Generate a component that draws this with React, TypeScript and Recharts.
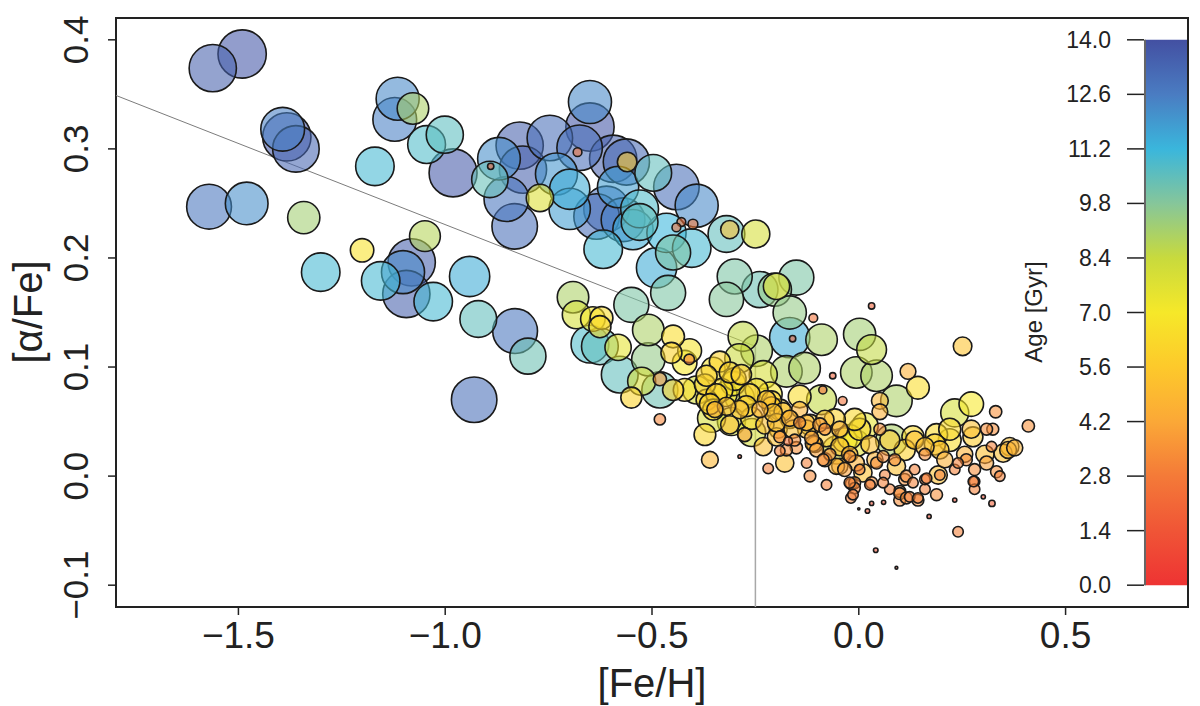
import React from 'react';
import { ScatterChart, Scatter, XAxis, YAxis, ReferenceArea, ReferenceLine } from 'recharts';

// [Fe/H] of each star
const fehValues: number[] = [
  -1.562, -1.491, -1.393, -1.383, -1.361, -1.571, -1.480, -1.342, -1.201, -1.301,
  -1.170, -1.115, -1.122, -1.078, -1.001, -1.045, -0.981, -0.892, -0.870, -0.890,
  -0.820, -0.812, -0.747, -0.852, -0.832, -0.771, -0.731, -0.699, -0.699, -0.650,
  -0.650, -0.675, -0.680, -0.594, -0.562, -0.560, -0.582, -0.610, -0.634, -0.570,
  -0.530, -0.530, -0.546, -0.497, -0.441, -0.392, -0.618, -0.465, -0.429, -0.441,
  -0.401, -0.404, -0.449, -0.489, -0.461, -0.320, -0.312, -0.249, -0.300, -0.320,
  -0.239, -0.203, -0.280, -0.691, -0.683, -0.550, -0.622, -0.626, -0.509, -0.449,
  -1.049, -1.081, -1.102, -1.094, -1.156, -1.029, -0.941, -0.920, -0.831, -0.800,
  -0.930, -0.650, -0.626, -0.643, -0.582, -0.578, -0.509, -0.525, -0.481, -0.481,
  -0.550, -0.481, -0.409, -0.410, -0.421, -0.392, -0.352, -0.368, -0.289, -0.284,
  -0.288, -0.308, -0.372, -0.360, -0.231, -0.211, -0.259, -0.231, -0.247, -0.288,
  -0.175, -0.131, -0.143, -0.195, -0.179, -0.219, -0.118, -0.078, -0.167, -0.160,
  -0.167, -0.110, -0.151, -0.090, -0.063, -0.087, 0.002, 0.031, -0.006, 0.043,
  -0.090, -0.039, 0.119, 0.143, 0.091, 0.051, 0.051, 0.251, 0.232, 0.272,
  0.331, 0.410, 0.220, 0.276, 0.305, 0.324, 0.361, 0.377, 0.341, 0.280,
  0.301, 0.322, 0.280, 0.240, 0.232, 0.170, 0.041, 0.091, 0.021, 0.031,
  0.060, 0.000, -0.019, -0.010, -0.022, -0.151, -0.191, -0.171, 0.099, 0.123,
  0.143, 0.188, 0.099, 0.160, 0.079,
  -0.336, -0.300, -0.372, -0.324, -0.348, -0.288, -0.264, -0.239, -0.312, -0.276,
  -0.227, -0.191, -0.215, -0.167, -0.143, -0.118, -0.155, -0.106, -0.082, -0.058,
  -0.034, -0.070, -0.022, 0.002, 0.027, 0.051, 0.075, 0.039, 0.087, 0.111,
  0.135, 0.160, 0.184, 0.208, 0.135, 0.256, 0.232, 0.063, 0.111, 0.196,
  0.002, -0.034, 0.027, 0.075, 0.160, -0.054, -0.006, 0.015, -0.010, -0.082,
  -0.094, -0.046, -0.114, -0.199, -0.259, -0.211, -0.183, -0.126, -0.082, -0.046,
  -0.006, 0.010, 0.043, 0.059, 0.091, 0.115, 0.131, 0.164, 0.192, 0.196,
  0.160, 0.131, 0.188, 0.220, 0.240, 0.260, 0.272, 0.309, 0.321, 0.280,
  0.309, 0.333, 0.365, 0.349, 0.277, -0.018, 0.031, 0.059, 0.099, 0.115,
  0.143, -0.199, -0.159, -0.126, -0.110, -0.078, -0.046, -0.022, -0.054, -0.022,
  -0.086, -0.102, -0.126, -0.175, -0.010, -0.014, -0.312, -0.223, -0.344, -0.352,
  -0.320, -0.207, -0.167, -0.143, -0.191, -0.453, -0.449, -0.421, -0.368, -0.332,
  -0.304, -0.360, -0.272, -0.247, -0.356, 0.031, -0.199,
];

// [alpha/Fe] of each star
const alphaValues: number[] = [
  0.374, 0.387, 0.318, 0.311, 0.300, 0.247, 0.250, 0.237, 0.207, 0.187,
  0.284, 0.346, 0.327, 0.337, 0.313, 0.304, 0.278, 0.272, 0.291, 0.284,
  0.303, 0.281, 0.310, 0.254, 0.229, 0.255, 0.277, 0.263, 0.245, 0.343,
  0.320, 0.301, 0.297, 0.291, 0.288, 0.288, 0.265, 0.245, 0.238, 0.235,
  0.245, 0.233, 0.226, 0.278, 0.265, 0.248, 0.208, 0.223, 0.233, 0.228,
  0.231, 0.209, 0.205, 0.191, 0.168, 0.222, 0.226, 0.222, 0.183, 0.162,
  0.171, 0.171, 0.128, 0.164, 0.148, 0.157, 0.145, 0.137, 0.134, 0.128,
  0.220, 0.196, 0.187, 0.167, 0.179, 0.160, 0.183, 0.144, 0.133, 0.110,
  0.070, 0.121, 0.119, 0.144, 0.118, 0.093, 0.107, 0.087, 0.089, 0.079,
  0.072, 0.052, 0.115, 0.107, 0.104, 0.079, 0.098, 0.070, 0.108, 0.093,
  0.072, 0.050, 0.038, 0.015, 0.093, 0.064, 0.040, 0.027, 0.115, 0.018,
  0.096, 0.099, 0.073, 0.043, 0.012, 0.007, 0.000, -0.008, 0.127, 0.126,
  0.150, 0.145, 0.182, 0.125, 0.092, 0.079, 0.130, 0.116, 0.095, 0.092,
  0.070, 0.069, 0.096, 0.081, 0.069, 0.069, 0.059, 0.119, 0.058, 0.066,
  0.059, 0.046, 0.033, 0.036, 0.020, 0.043, 0.024, 0.026, 0.000, -0.005,
  -0.019, -0.025, -0.012, -0.051, -0.022, -0.037, -0.068, -0.084, -0.032, -0.025,
  -0.024, -0.030, -0.020, -0.011, -0.006, 0.026, 0.023, 0.032, -0.022, -0.019,
  -0.020, -0.017, -0.014, -0.012, 0.033,
  0.105, 0.089, 0.084, 0.075, 0.061, 0.061, 0.075, 0.061, 0.047, 0.038,
  0.047, 0.061, 0.075, 0.052, 0.061, 0.047, 0.033, 0.029, 0.043, 0.052,
  0.033, 0.020, 0.020, 0.043, 0.029, 0.043, 0.033, 0.015, 0.015, 0.024,
  0.033, 0.020, 0.029, 0.015, 0.006, 0.020, 0.006, 0.001, -0.003, 0.001,
  0.006, 0.006, -0.008, -0.012, -0.003, 0.024, 0.030, 0.046, 0.052, 0.052,
  0.047, 0.043, 0.035, 0.036, 0.053, 0.069, 0.059, 0.043, 0.015, 0.009,
  0.012, 0.003, 0.012, 0.018, 0.009, 0.000, -0.006, -0.002, 0.001, 0.024,
  0.027, 0.036, 0.038, 0.043, 0.012, 0.015, 0.043, 0.043, 0.027, 0.006,
  0.012, 0.004, 0.027, 0.021, -0.005, -0.007, -0.006, -0.006, -0.016, -0.020,
  -0.022, 0.049, 0.043, 0.049, 0.030, 0.036, 0.027, 0.036, 0.009, 0.018,
  0.015, 0.024, 0.012, 0.024, -0.006, -0.017, 0.095, 0.070, 0.075, 0.061,
  0.064, 0.058, 0.053, 0.049, 0.036, 0.113, 0.079, 0.079, 0.092, 0.079,
  0.085, 0.066, 0.064, 0.079, 0.053, 0.156, 0.174,
];

// stellar age in Gyr of each star
const ageValues: number[] = [
  13.5, 13.8, 12.5, 13.8, 13.3, 12.8, 12.2, 9.2, 6.7, 11.0,
  11.0, 12.3, 12.5, 9.0, 10.6, 10.8, 13.7, 10.4, 12.2, 1.8,
  13.5, 13.5, 13.0, 12.8, 13.0, 7.8, 12.0, 11.5, 11.8, 12.3,
  13.8, 13.0, 2.5, 13.5, 13.2, 5.6, 11.8, 13.0, 13.0, 12.5,
  10.8, 10.5, 11.5, 10.5, 13.0, 12.3, 11.0, 11.2, 2.5, 2.5,
  2.8, 11.0, 10.0, 11.5, 10.0, 10.5, 5.2, 8.0, 10.0, 9.8,
  10.3, 9.5, 8.5, 9.0, 8.0, 10.0, 6.5, 6.3, 9.0, 6.5,
  8.8, 13.5, 12.3, 13.5, 11.0, 11.0, 11.5, 10.5, 12.8, 10.3,
  13.0, 10.8, 10.5, 7.0, 7.5, 10.5, 9.5, 8.0, 3.8, 10.3,
  6.0, 3.2, 6.8, 3.0, 7.0, 8.0, 6.8, 6.0, 8.3, 5.8,
  8.3, 8.0, 6.2, 4.8, 8.0, 5.5, 8.0, 5.2, 9.0, 1.0,
  9.0, 9.0, 6.5, 5.2, 5.2, 3.0, 3.3, 3.0, 11.5, 1.8,
  9.5, 2.5, 10.0, 9.0, 1.8, 2.3, 9.2, 8.5, 9.0, 9.0,
  8.5, 2.5, 4.5, 6.5, 9.0, 4.8, 4.5, 5.3, 8.0, 7.0,
  3.5, 3.5, 6.5, 5.7, 5.2, 3.4, 4.8, 4.6, 3.0, 3.0,
  1.2, 1.8, 3.0, 3.0, 1.2, 1.2, 1.3, 0.8, 1.3, 1.2,
  1.2, 0.6, 3.0, 3.2, 3.2, 3.5, 3.0, 2.5, 3.4, 3.0,
  3.0, 3.4, 3.4, 3.0, 9.0,
  6.0, 6.5, 6.0, 7.0, 4.6, 5.2, 6.0, 4.6, 5.2, 4.0,
  5.2, 6.0, 7.0, 5.2, 4.6, 6.0, 3.4, 4.6, 3.4, 6.0,
  7.0, 3.4, 4.6, 6.3, 5.2, 3.4, 5.7, 4.6, 3.4, 6.0,
  5.2, 3.4, 6.0, 4.6, 3.0, 4.6, 3.0, 3.0, 3.4, 3.0,
  3.0, 4.0, 3.0, 3.0, 3.0, 8.0, 7.5, 7.5, 6.3, 5.2,
  4.0, 4.6, 4.0, 5.2, 6.3, 5.7, 5.2, 5.2, 4.0, 4.6,
  4.6, 5.2, 3.4, 3.4, 5.2, 3.4, 3.0, 3.0, 5.2, 5.2,
  5.2, 6.3, 6.3, 6.3, 3.0, 3.4, 5.2, 3.4, 3.0, 3.4,
  4.0, 3.4, 5.2, 5.2, 3.0, 3.4, 3.4, 3.0, 3.4, 3.4,
  3.4, 5.2, 5.2, 4.6, 4.6, 5.7, 5.2, 7.0, 4.6, 3.4,
  3.4, 4.0, 3.0, 3.4, 3.4, 3.0, 6.0, 5.2, 6.0, 6.0,
  5.2, 5.2, 4.6, 3.4, 3.4, 6.0, 6.0, 6.5, 6.0, 6.5,
  7.0, 6.0, 6.0, 6.5, 8.0, 1.8, 7.5,
];

// axis ticks
const xTicks = [-1.5, -1.0, -0.5, 0.0, 0.5];
const yTicks = [-0.1, 0.0, 0.1, 0.2, 0.3, 0.4];
const ageTicks = [0.0, 1.4, 2.8, 4.2, 5.6, 7.0, 8.4, 9.8, 11.2, 12.6, 14.0];

// fitted relation (knee) drawn as thin gray lines
const fitStart = { x: -1.796, y: 0.349 };
const fitKnee = { x: -0.25, y: 0.119 };
const fitBottom = { x: -0.25, y: -0.12 };

const X_DOMAIN: [number, number] = [-1.796, 0.796];
const Y_DOMAIN: [number, number] = [-0.12, 0.42];
const AGE_DOMAIN: [number, number] = [-0.56, 14.56];
const BAR_X1 = 0.692;

const colorStops: [number, string][] = [
  [0.0, '#ee3333'],
  [1.4, '#f05536'],
  [2.8, '#f47a38'],
  [4.2, '#fba837'],
  [5.6, '#fdc92b'],
  [7.0, '#f6e829'],
  [8.4, '#c8da3d'],
  [9.8, '#86c69a'],
  [11.2, '#3ab6dc'],
  [12.6, '#4a7cc2'],
  [14.0, '#4350a2'],
];

const hexToRgb = (h: string) => [
  parseInt(h.slice(1, 3), 16),
  parseInt(h.slice(3, 5), 16),
  parseInt(h.slice(5, 7), 16),
];

const ageColor = (age: number) => {
  const a = Math.max(0, Math.min(14, age));
  for (let i = 0; i < colorStops.length - 1; i++) {
    const [a0, c0] = colorStops[i];
    const [a1, c1] = colorStops[i + 1];
    if (a >= a0 && a <= a1) {
      const t = (a - a0) / (a1 - a0);
      const r0 = hexToRgb(c0);
      const r1 = hexToRgb(c1);
      const m = r0.map((v, k) => Math.round(v + (r1[k] - v) * t));
      return `rgb(${m[0]},${m[1]},${m[2]})`;
    }
  }
  return colorStops[colorStops.length - 1][1];
};

const stars = fehValues
  .map((feh, i) => ({ feh, alpha: alphaValues[i], age: ageValues[i] }))
  .sort((a, b) => b.age - a.age);

const FONT = '"Liberation Sans", Arial, Helvetica, sans-serif';
const INK = '#222';

const fmt = (v: number) => {
  const s = Math.abs(v).toFixed(1);
  return v < -1e-9 ? `\u2212${s}` : s;
};

const Bubble = (props: any) => {
  const { cx, cy, payload } = props;
  if (cx == null || cy == null || !payload) return null;
  const r = Math.max(1.1, payload.age * 1.75);
  return (
    <circle
      cx={cx}
      cy={cy}
      r={r}
      fill={ageColor(payload.age)}
      fillOpacity={0.58}
      stroke="#1a1a1a"
      strokeWidth={1.6}
    />
  );
};

const XTick = (props: any) => {
  const { x, payload } = props;
  return (
    <text x={x} y={648} textAnchor="middle" fontSize={37} fill={INK} fontFamily={FONT}>
      {fmt(payload.value)}
    </text>
  );
};

const YTick = (props: any) => {
  const { y, payload } = props;
  const bx = 88;
  return (
    <text
      x={bx}
      y={y}
      transform={`rotate(-90, ${bx}, ${y})`}
      textAnchor="middle"
      fontSize={35}
      fill={INK}
      fontFamily={FONT}
    >
      {fmt(payload.value)}
    </text>
  );
};

const AgeTick = (props: any) => {
  const { y, payload } = props;
  return (
    <g>
      <line x1={1127} x2={1144} y1={y} y2={y} stroke={INK} strokeWidth={1.5} />
      <text x={1111} y={y + 8} textAnchor="end" fontSize={23} fill={INK} fontFamily={FONT}>
        {payload.value.toFixed(1)}
      </text>
    </g>
  );
};

export default function App() {
  return (
    <div style={{ position: 'absolute', left: 0, top: 0, width: 1200, height: 706, background: '#fff' }}>
      <ScatterChart width={1200} height={706} margin={{ top: 18, right: 12, bottom: 0, left: 1 }}>
        <defs>
          <linearGradient id="ageGrad" x1="0" y1="1" x2="0" y2="0">
            {colorStops.map(([a, c]) => (
              <stop key={a} offset={`${(a / 14) * 100}%`} stopColor={c} />
            ))}
          </linearGradient>
        </defs>
        <XAxis
          type="number"
          dataKey="feh"
          domain={X_DOMAIN}
          ticks={xTicks}
          allowDataOverflow
          height={99}
          axisLine={false}
          tickLine={{ stroke: INK, strokeWidth: 1.5 }}
          tickSize={8}
          tick={<XTick />}
          interval={0}
        />
        <YAxis
          type="number"
          dataKey="alpha"
          domain={Y_DOMAIN}
          ticks={yTicks}
          allowDataOverflow
          width={115}
          axisLine={false}
          tickLine={{ stroke: INK, strokeWidth: 1.5 }}
          tickSize={8}
          tick={<YTick />}
          interval={0}
        />
        <YAxis
          yAxisId="age"
          type="number"
          orientation="right"
          mirror
          width={1}
          domain={AGE_DOMAIN}
          ticks={ageTicks}
          allowDataOverflow
          axisLine={false}
          tickLine={false}
          tick={<AgeTick />}
          interval={0}
        />
        <ReferenceLine
          segment={[fitStart, fitKnee]}
          stroke="#7c7c7c"
          strokeWidth={1}
          ifOverflow="visible"
        />
        <ReferenceLine
          segment={[fitKnee, fitBottom]}
          stroke="#a8a8a8"
          strokeWidth={1.5}
          ifOverflow="visible"
        />
        <Scatter data={stars} shape={<Bubble />} isAnimationActive={false} />
        <ReferenceArea
          yAxisId="age"
          x1={BAR_X1}
          x2={X_DOMAIN[1]}
          y1={ageTicks[0]}
          y2={ageTicks[ageTicks.length - 1]}
          fill="url(#ageGrad)"
          fillOpacity={1}
          stroke="none"
          ifOverflow="visible"
        />
        <ReferenceLine
          yAxisId="age"
          segment={[
            { x: BAR_X1, y: ageTicks[0] },
            { x: BAR_X1, y: ageTicks[ageTicks.length - 1] },
          ]}
          stroke="#666"
          strokeWidth={2}
          ifOverflow="visible"
        />
        <ReferenceArea
          x1={X_DOMAIN[0]}
          x2={X_DOMAIN[1]}
          y1={Y_DOMAIN[0]}
          y2={Y_DOMAIN[1]}
          fill="none"
          stroke={INK}
          strokeWidth={2}
          ifOverflow="visible"
        />
        <text x={652} y={697} textAnchor="middle" fontSize={40} fill={INK} fontFamily={FONT}>
          [Fe/H]
        </text>
        <text
          x={42}
          y={312}
          transform="rotate(-90, 42, 312)"
          textAnchor="middle"
          fontSize={40}
          fill={INK}
          fontFamily={FONT}
        >
          [α/Fe]
        </text>
        <text
          x={1042}
          y={312}
          transform="rotate(-90, 1042, 312)"
          textAnchor="middle"
          fontSize={24}
          fill={INK}
          fontFamily={FONT}
        >
          Age [Gyr]
        </text>
      </ScatterChart>
    </div>
  );
}
